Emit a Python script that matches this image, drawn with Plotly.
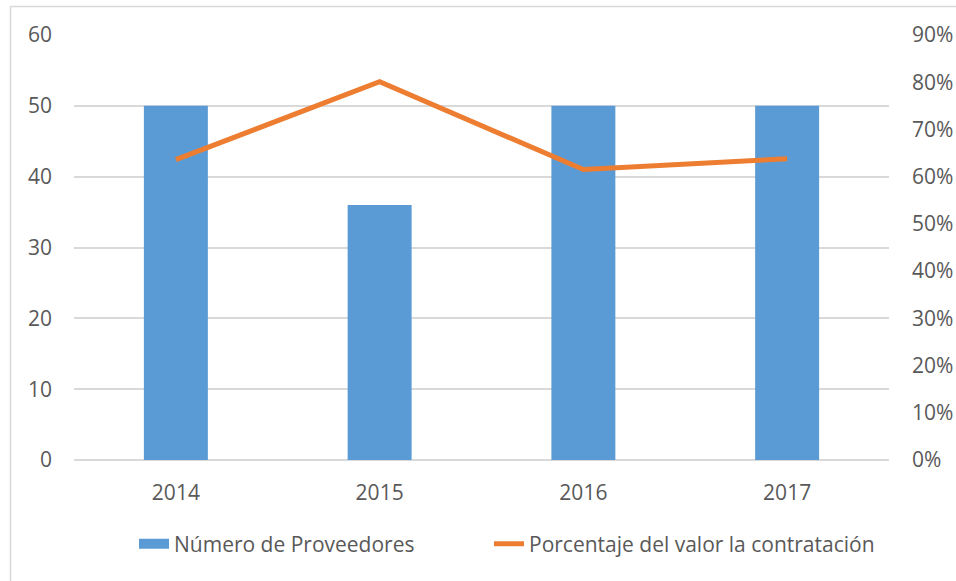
import plotly.graph_objects as go

years = ["2014", "2015", "2016", "2017"]
proveedores = [50, 36, 50, 50]
porcentaje = [0.636, 0.801, 0.615, 0.638]

left_ticks = [0, 10, 20, 30, 40, 50, 60]
right_ticks = [0, 0.1, 0.2, 0.3, 0.4, 0.5, 0.6, 0.7, 0.8, 0.9]
right_labels = ["0%", "10%", "20%", "30%", "40%", "50%", "60%", "70%", "80%", "90%"]

FONT = "Open Sans"
FS = 21
TXT = "#595959"
GRID = "#D9D9D9"
BLUE = "#5B9BD5"
ORANGE = "#ED7D31"

W, H = 956, 581
L, R, T, B = 74, 67, 35, 121
PW, PH = W - L - R, H - T - B


def px_x(x):
    return (x - L) / PW


def px_y(y):
    return (H - B - y) / PH


fig = go.Figure()
fig.add_trace(go.Bar(
    x=years, y=proveedores, name="Número de Proveedores",
    marker=dict(color=BLUE, line=dict(width=0)),
    yaxis="y", showlegend=False, legendgroup="bar",
))
# legend proxy for the bars (wide rectangle swatch)
fig.add_trace(go.Scatter(
    x=[None], y=[None], name="Número de Proveedores",
    mode="lines", line=dict(color=BLUE, width=14),
    legendgroup="bar", showlegend=True, legend="legend",
))
fig.add_trace(go.Scatter(
    x=years, y=porcentaje, name="Porcentaje del valor la contratación",
    mode="lines", line=dict(color=ORANGE, width=5),
    yaxis="y2", legend="legend2",
))

legend_common = dict(orientation="h", xanchor="left", yanchor="middle",
                     y=px_y(544), bgcolor="rgba(0,0,0,0)",
                     font=dict(family=FONT, size=FS, color=TXT))

fig.update_layout(
    width=W, height=H,
    margin=dict(l=L, r=R, t=T, b=B, autoexpand=False),
    paper_bgcolor="white", plot_bgcolor="white",
    font=dict(family=FONT, size=FS, color=TXT),
    bargap=0.686,
    showlegend=True,
    legend=dict(x=px_x(134), **legend_common),
    legend2=dict(x=px_x(489), **legend_common),
    xaxis=dict(showgrid=False, showline=False, zeroline=False, ticks="",
               automargin=False,
               tickfont=dict(size=FS, color=TXT), ticklabelstandoff=18),
    yaxis=dict(range=[0, 60], tickvals=left_ticks, showgrid=True, gridcolor=GRID,
               gridwidth=1.5, zeroline=True, zerolinecolor=GRID, zerolinewidth=1.5,
               showline=False, ticks="", tickfont=dict(size=FS, color=TXT),
               automargin=False, ticklabelstandoff=21),
    yaxis2=dict(range=[0, 0.9], tickvals=right_ticks, ticktext=right_labels,
                overlaying="y", side="right", showgrid=False, zeroline=False,
                showline=False, ticks="", tickfont=dict(size=FS, color=TXT),
                automargin=False, ticklabelstandoff=22),
    shapes=[
        dict(type="line", xref="paper", yref="paper",
             x0=px_x(10), x1=px_x(W), y0=px_y(6.5), y1=px_y(6.5),
             line=dict(color=GRID, width=1.5), layer="below"),
        dict(type="line", xref="paper", yref="paper",
             x0=px_x(10.5), x1=px_x(10.5), y0=px_y(6.5), y1=px_y(H),
             line=dict(color=GRID, width=1.5), layer="below"),
    ],
)

fig.write_html("out.html", config={"displayModeBar": False},
               post_script="document.body.style.margin='0';")
